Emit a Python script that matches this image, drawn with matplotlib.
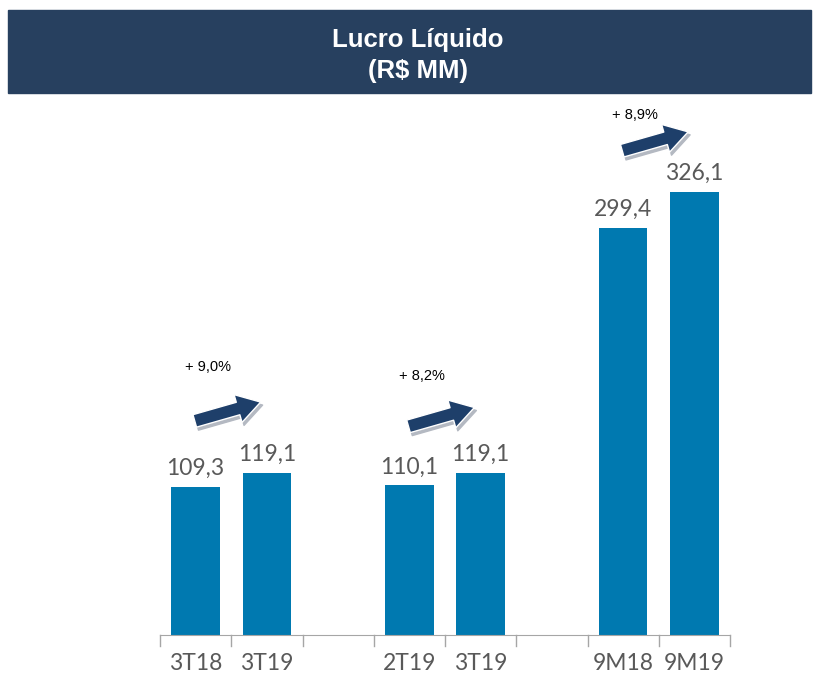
import matplotlib.pyplot as plt
import matplotlib.transforms as mtransforms
from matplotlib.patches import Rectangle, FancyArrowPatch

# data
labels = ['3T18', '3T19', '', '2T19', '3T19', '', '9M18', '9M19']
values = [109.3, 119.1, None, 110.1, 119.1, None, 299.4, 326.1]
value_text = ['109,3', '119,1', '', '110,1', '119,1', '', '299,4', '326,1']
# growth annotations: first bar index of each pair, and the text
growth_idx = [0, 3, 6]
growth_text = ['+ 9,0%', '+ 8,2%', '+ 8,9%']

bar_color = '#0079B0'
arrow_color = '#1E3F6A'
header_color = '#27405F'
text_gray = '#595959'

fig = plt.figure(figsize=(8.17, 6.75), dpi=100)
W, H = 817, 675

# header band
fig.patches.append(Rectangle((8 / W, 1 - 93 / H), 803 / W, 83 / H,
                             transform=fig.transFigure, color=header_color, zorder=0))
fig.text(418 / W, 1 - 40 / H, 'Lucro Líquido', color='white', fontsize=18.5, fontweight='bold',
         family='Liberation Sans', ha='center', va='center')
fig.text(418 / W, 1 - 71 / H, '(R$ MM)', color='white', fontsize=18.5, fontweight='bold',
         family='Liberation Sans', ha='center', va='center')

ax = fig.add_axes([160 / W, 1 - 635 / H, 570 / W, 535 / H])
xs = [i for i, v in enumerate(values) if v is not None]
vs = [v for v in values if v is not None]
ax.bar(xs, vs, width=0.68, color=bar_color)
ax.set_xlim(-0.5, len(labels) - 0.5)
ax.set_ylim(0, 394)

for x, v in zip(xs, vs):
    ax.text(x, v + 6, value_text[x], ha='center', va='bottom', fontsize=16.5,
            color=text_gray, family='Lato')

# category labels and tick marks between slots
ax.set_xticks(xs)
ax.set_xticklabels([labels[i] for i in xs], fontsize=16.5, color=text_gray, family='Lato')
ax.tick_params(axis='x', length=0, pad=13)
for b in [i - 0.5 for i in range(len(labels) + 1)]:
    ax.plot([b, b], [0, -8], color='#A6A6A6', lw=1, clip_on=False)
ax.set_yticks([])
for s in ['top', 'right', 'left']:
    ax.spines[s].set_visible(False)
ax.spines['bottom'].set_color('#A6A6A6')

# growth arrows (offset above the taller bar of each pair)
arrow_lift = [38, 34, 30]
text_lift = [78, 72, 57]
style = 'simple,head_length=1.3,head_width=1.6,tail_width=0.72'
shadow_tr = mtransforms.offset_copy(ax.transData, fig=fig, x=2, y=-3, units='dots')
for i, txt, al, tl in zip(growth_idx, growth_text, arrow_lift, text_lift):
    top = max(values[i], values[i + 1])
    a = (i - 0.05, top + al)
    b = (i + 0.95, top + al + 15)
    ax.add_patch(FancyArrowPatch(a, b, arrowstyle=style, mutation_scale=13,
                                 color='#B4B9C2', transform=shadow_tr, zorder=2))
    ax.add_patch(FancyArrowPatch(a, b, arrowstyle=style, mutation_scale=13,
                                 fc=arrow_color, ec='white', lw=1, zorder=3))
    ax.text(i + 0.17, top + tl, txt, fontsize=10.5, family='Liberation Sans',
            ha='center', va='center')

fig.savefig('out.png', dpi=100)
